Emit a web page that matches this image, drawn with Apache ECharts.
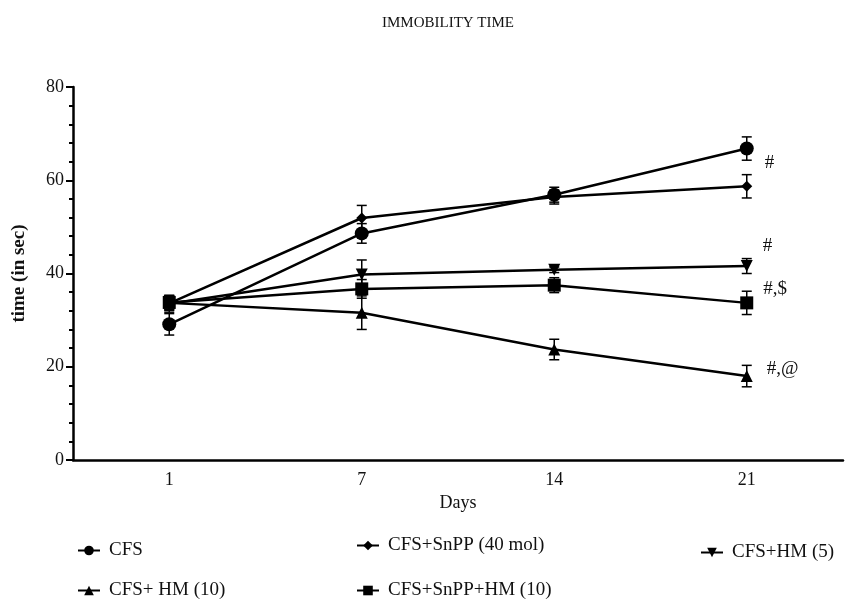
<!DOCTYPE html>
<html>
<head>
<meta charset="utf-8">
<script src="https://cdn.jsdelivr.net/npm/echarts@6/dist/echarts.min.js"></script>
<style>
  html, body { margin: 0; padding: 0; background: #fff; }
  #chart { width: 861px; height: 603px; }
</style>
</head>
<body>
<div id="chart"></div>
<script>
// days on the x axis
var days = ['1', '7', '14', '21'];

// mean immobility time (sec) per group
var cfs = [29.1, 48.6, 56.9, 66.8];
var cfsSnpp = [33.6, 51.9, 56.4, 58.7];
var cfsHm5 = [33.5, 39.8, 40.8, 41.6];
var cfsHm10 = [33.7, 31.6, 23.7, 18.0];
var cfsSnppHm10 = [33.8, 36.7, 37.5, 33.7];

// error (+/-) per group
var cfsErr = [2.3, 2.1, 1.6, 2.5];
var cfsSnppErr = [1.5, 2.7, 1.5, 2.5];
var cfsHm5Err = [1.8, 3.1, 0.6, 1.6];
var cfsHm10Err = [1.5, 3.6, 2.2, 2.3];
var cfsSnppHm10Err = [1.5, 2.0, 1.6, 2.5];

// significance marks at day 21
var cfsMark = '#';
var cfsHm5Mark = '#';
var cfsSnppHm10Mark = '#,$';
var cfsHm10Mark = '#,@';

var FONT = 'Liberation Serif';

var chart = echarts.init(document.getElementById('chart'));

function lineSeries(name, values, symbol, size, mark, offset) {
  var data = values.map(function (v, i) {
    if (i === values.length - 1 && mark) {
      return {
        value: v,
        label: {
          show: true, formatter: mark, position: 'right', offset: offset,
          fontFamily: FONT, fontSize: 19, color: '#111'
        }
      };
    }
    return v;
  });
  return {
    name: name,
    type: 'line',
    data: data,
    symbol: symbol,
    symbolSize: size,
    showAllSymbol: true,
    z: 3,
    lineStyle: { color: '#000', width: 2.5 },
    itemStyle: { color: '#000' },
    emphasis: { disabled: true },
    animation: false
  };
}

function errSeries(values, errs) {
  var data = values.map(function (v, i) { return [i, v - errs[i], v + errs[i]]; });
  return {
    type: 'custom',
    data: data,
    z: 2,
    silent: true,
    animation: false,
    renderItem: function (params, api) {
      var lo = api.coord([api.value(0), api.value(1)]);
      var hi = api.coord([api.value(0), api.value(2)]);
      var w = 5;
      var st = { stroke: '#000', lineWidth: 1.5 };
      return {
        type: 'group',
        children: [
          { type: 'line', shape: { x1: lo[0], y1: lo[1], x2: hi[0], y2: hi[1] }, style: st },
          { type: 'line', shape: { x1: lo[0] - w, y1: lo[1], x2: lo[0] + w, y2: lo[1] }, style: st },
          { type: 'line', shape: { x1: hi[0] - w, y1: hi[1], x2: hi[0] + w, y2: hi[1] }, style: st }
        ]
      };
    }
  };
}

function legendAt(name, left, top) {
  return {
    data: [name],
    left: left,
    top: top,
    padding: 0,
    itemWidth: 22,
    itemHeight: 12,
    itemGap: 0,
    textStyle: { fontFamily: FONT, fontSize: 19, color: '#111', padding: [0, 0, 0, 4] },
    selectedMode: false
  };
}

var option = {
  backgroundColor: '#fff',
  title: {
    text: 'IMMOBILITY TIME',
    left: 443,
    top: 11,
    textAlign: 'center',
    textStyle: { fontFamily: FONT, fontSize: 15, fontWeight: 'normal', color: '#111' }
  },
  legend: [
    legendAt('CFS', 77, 541),
    legendAt('CFS+SnPP (40 mol)', 356, 536),
    legendAt('CFS+HM (5)', 700, 543),
    legendAt('CFS+ HM (10)', 77, 581),
    legendAt('CFS+SnPP+HM (10)', 356, 581)
  ],
  grid: { left: 73, right: 18, top: 87, bottom: 143 },
  xAxis: {
    type: 'category',
    data: days,
    name: 'Days',
    nameLocation: 'middle',
    nameGap: 30,
    nameTextStyle: { fontFamily: FONT, fontSize: 18, color: '#111' },
    axisLine: { lineStyle: { color: '#000', width: 2.5 } },
    axisTick: { alignWithLabel: true, length: 7, lineStyle: { color: '#000', width: 2 } },
    axisLabel: { fontFamily: FONT, fontSize: 18, color: '#111', margin: 11 },
    splitLine: { show: false }
  },
  yAxis: {
    type: 'value',
    min: 0,
    max: 80,
    interval: 20,
    name: 'time (in sec)',
    nameLocation: 'middle',
    nameGap: 44,
    nameTextStyle: { fontFamily: FONT, fontSize: 19, fontWeight: 'bold', color: '#111' },
    axisLine: { show: true, lineStyle: { color: '#000', width: 2.5 } },
    axisTick: { show: true, length: 7, lineStyle: { color: '#000', width: 2 } },
    minorTick: { show: true, splitNumber: 5, length: 4, lineStyle: { color: '#000', width: 2 } },
    axisLabel: { fontFamily: FONT, fontSize: 18, color: '#111', margin: 9 },
    splitLine: { show: false }
  },
  series: [
    errSeries(cfs, cfsErr),
    errSeries(cfsSnpp, cfsSnppErr),
    errSeries(cfsHm5, cfsHm5Err),
    errSeries(cfsHm10, cfsHm10Err),
    errSeries(cfsSnppHm10, cfsSnppHm10Err),
    lineSeries('CFS', cfs, 'circle', 14, cfsMark, [6, 14]),
    lineSeries('CFS+SnPP (40 mol)', cfsSnpp, 'diamond', 11, null),
    lineSeries('CFS+HM (5)', cfsHm5, 'triangle', 12, cfsHm5Mark, [5, -20]),
    lineSeries('CFS+ HM (10)', cfsHm10, 'triangle', 12, cfsHm10Mark, [9, -7]),
    lineSeries('CFS+SnPP+HM (10)', cfsSnppHm10, 'rect', 13, cfsSnppHm10Mark, [5, -14])
  ]
};

// HM (5) uses a downward triangle
option.series[7].symbolRotate = 180;

chart.setOption(option);
</script>
</body>
</html>
